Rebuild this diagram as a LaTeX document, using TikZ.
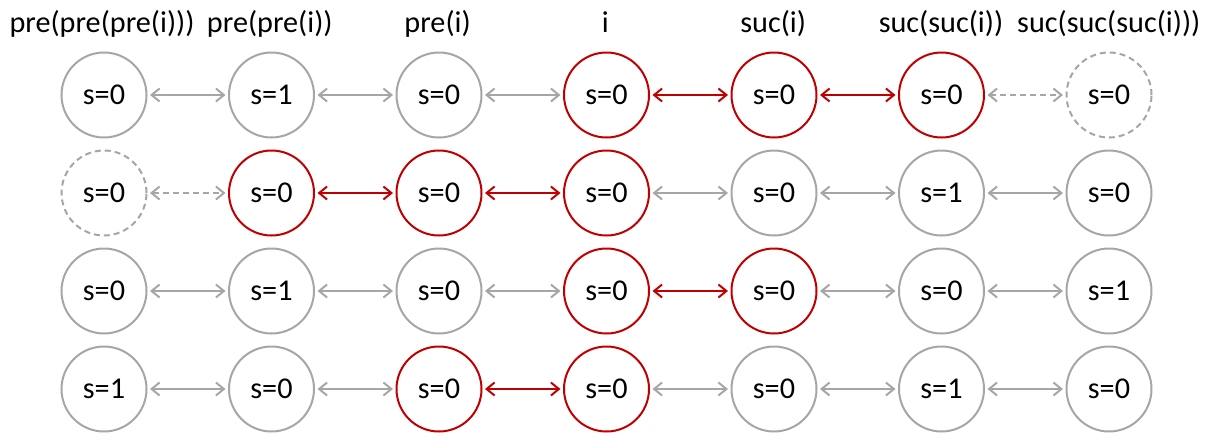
\documentclass[tikz,border=0pt]{standalone}
\usepackage{fontspec}
\setmainfont{Carlito}
\usetikzlibrary{arrows.meta}
\definecolor{lightgray}{HTML}{A6A6A6}
\definecolor{darkred}{HTML}{C00000}
\begin{document}
\begin{tikzpicture}[x=1pt,y=-1pt,
  font=\fontsize{30.2}{36}\selectfont,
  state/.style={circle,draw=lightgray,line width=2pt,minimum size=85pt,inner sep=0pt,text=black},
  hot/.style={state,draw=darkred},
  ghost/.style={state,dashed,dash pattern=on 6pt off 4pt},
  link/.style={draw=lightgray,line width=2pt,{Straight Barb[length=8pt,width=13pt]}-{Straight Barb[length=8pt,width=13pt]},shorten <=2.5pt,shorten >=2.5pt},
  hotlink/.style={link,draw=darkred},
  ghostlink/.style={link,dash pattern=on 6pt off 4pt},
  head/.style={anchor=base,text=black}]
\useasboundingbox (0,0) rectangle (1211,432);

% column headings
\foreach \lbl [count=\c] in {pre(pre(pre(i))),pre(pre(i)),pre(i),i,suc(i),suc(suc(i)),suc(suc(suc(i)))}
  \node[head] (h\c) at ({102+(\c-1)*167.8},32) {\lbl};

% row 1
\node[state] (a1) at (104,95)    {s=0};
\node[state] (a2) at (271.5,95)  {s=1};
\node[state] (a3) at (439,95)    {s=0};
\node[hot]   (a4) at (606.5,95)  {s=0};
\node[hot]   (a5) at (774,95)    {s=0};
\node[hot]   (a6) at (941.5,95)  {s=0};
\node[ghost] (a7) at (1109,95)   {s=0};
\draw[link] (a1) -- (a2);
\draw[link] (a2) -- (a3);
\draw[link] (a3) -- (a4);
\draw[hotlink] (a4) -- (a5);
\draw[hotlink] (a5) -- (a6);
\draw[ghostlink] (a6) -- (a7);

% row 2
\node[ghost] (b1) at (104,193)   {s=0};
\node[hot]   (b2) at (271.5,193) {s=0};
\node[hot]   (b3) at (439,193)   {s=0};
\node[hot]   (b4) at (606.5,193) {s=0};
\node[state] (b5) at (774,193)   {s=0};
\node[state] (b6) at (941.5,193) {s=1};
\node[state] (b7) at (1109,193)  {s=0};
\draw[ghostlink] (b1) -- (b2);
\draw[hotlink] (b2) -- (b3);
\draw[hotlink] (b3) -- (b4);
\draw[link] (b4) -- (b5);
\draw[link] (b5) -- (b6);
\draw[link] (b6) -- (b7);

% row 3
\node[state] (c1) at (104,291)   {s=0};
\node[state] (c2) at (271.5,291) {s=1};
\node[state] (c3) at (439,291)   {s=0};
\node[hot]   (c4) at (606.5,291) {s=0};
\node[hot]   (c5) at (774,291)   {s=0};
\node[state] (c6) at (941.5,291) {s=0};
\node[state] (c7) at (1109,291)  {s=1};
\draw[link] (c1) -- (c2);
\draw[link] (c2) -- (c3);
\draw[link] (c3) -- (c4);
\draw[hotlink] (c4) -- (c5);
\draw[link] (c5) -- (c6);
\draw[link] (c6) -- (c7);

% row 4
\node[state] (d1) at (104,389)   {s=1};
\node[state] (d2) at (271.5,389) {s=0};
\node[hot]   (d3) at (439,389)   {s=0};
\node[hot]   (d4) at (606.5,389) {s=0};
\node[state] (d5) at (774,389)   {s=0};
\node[state] (d6) at (941.5,389) {s=1};
\node[state] (d7) at (1109,389)  {s=0};
\draw[link] (d1) -- (d2);
\draw[link] (d2) -- (d3);
\draw[hotlink] (d3) -- (d4);
\draw[link] (d4) -- (d5);
\draw[link] (d5) -- (d6);
\draw[link] (d6) -- (d7);
\end{tikzpicture}
\end{document}
